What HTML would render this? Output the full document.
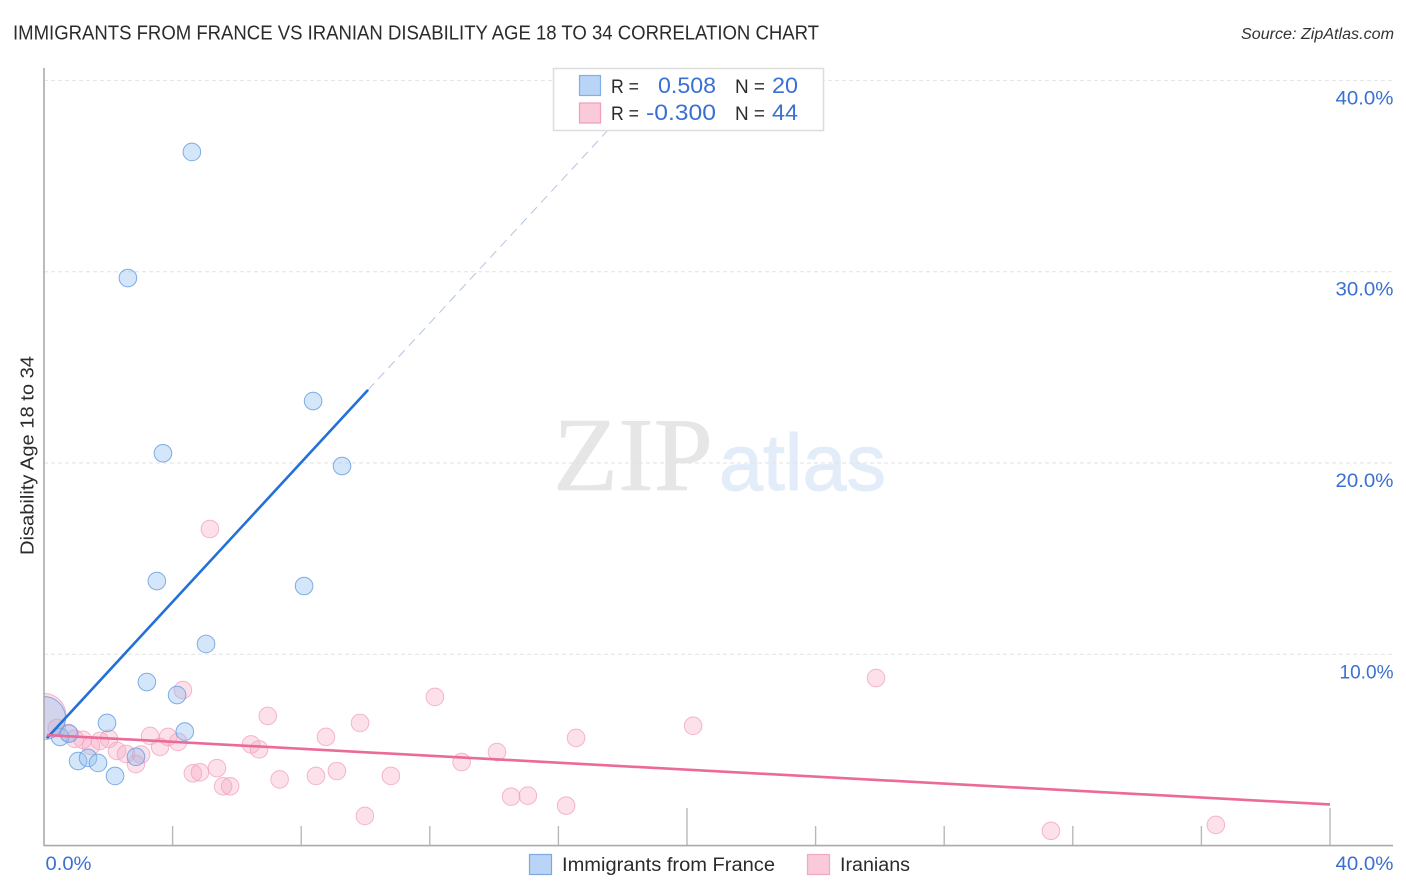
<!DOCTYPE html>
<html lang="en">
<head>
<meta charset="utf-8">
<title>Immigrants from France vs Iranian Disability Age 18 to 34 Correlation Chart</title>
<style>
html,body{margin:0;padding:0;background:#fff;}
body{width:1406px;height:892px;overflow:hidden;}
svg{display:block;font-family:"Liberation Sans",sans-serif;}
</style>
</head>
<body>
<svg id="chart" width="1406" height="892" viewBox="0 0 1406 892" xmlns="http://www.w3.org/2000/svg">
  <rect x="0" y="0" width="1406" height="892" fill="#ffffff"></rect>

  <g>
    <text x="553" y="490" font-family="'Liberation Serif',serif" font-size="105" fill="#e6e6e6" stroke="#e6e6e6" stroke-width="0.6" textLength="160" lengthAdjust="spacingAndGlyphs">ZIP</text>
    <text x="719" y="490" font-size="80" fill="#e3edf9" stroke="#e3edf9" stroke-width="1" textLength="167" lengthAdjust="spacingAndGlyphs">atlas</text>
  </g>

  <g id="grid"></g>
  <g id="ticks"></g>

  <g id="points-pink"></g>
  <g id="points-blue"></g>
  <g id="trends"></g>

  <rect x="0" y="60" width="44" height="786" fill="#ffffff"></rect>
  <line x1="44" y1="68" x2="44" y2="846" stroke="#aaaaaa" stroke-width="1.6"></line>
  <line x1="44" y1="845.6" x2="1393" y2="845.6" stroke="#aaaaaa" stroke-width="1.6"></line>

  <text x="13" y="39.5" font-size="20" fill="#2b2b2b" textLength="806" lengthAdjust="spacingAndGlyphs">IMMIGRANTS FROM FRANCE VS IRANIAN DISABILITY AGE 18 TO 34 CORRELATION CHART</text>
  <text x="1241" y="39" font-size="15.5" font-style="italic" fill="#333333" textLength="153" lengthAdjust="spacingAndGlyphs">Source: ZipAtlas.com</text>

  <text transform="translate(33.5,555) rotate(-90)" font-size="18" fill="#2b2b2b" textLength="199" lengthAdjust="spacingAndGlyphs">Disability Age 18 to 34</text>

  <g id="y-labels"></g>
  <g id="x-labels"></g>

  <g>
    <rect x="553.5" y="68.5" width="270" height="62" fill="#ffffff" stroke="#dddddd" stroke-width="1.5"></rect>
    <rect x="579.5" y="75.5" width="21" height="20" fill="#b9d4f6" stroke="#7fb0e8" stroke-width="1.2"></rect>
    <rect x="579.5" y="103" width="21" height="20" fill="#fac9da" stroke="#f19dbb" stroke-width="1.2"></rect>
    <text x="611" y="93" font-size="19" fill="#2b2b2b" textLength="28" lengthAdjust="spacingAndGlyphs">R =</text>
    <text x="658" y="93" font-size="22" fill="#3a70d2" textLength="58" lengthAdjust="spacingAndGlyphs">0.508</text>
    <text x="735" y="93" font-size="19" fill="#2b2b2b" textLength="30" lengthAdjust="spacingAndGlyphs">N =</text>
    <text x="772" y="93" font-size="22" fill="#3a70d2" textLength="26" lengthAdjust="spacingAndGlyphs">20</text>
    <text x="611" y="120" font-size="19" fill="#2b2b2b" textLength="28" lengthAdjust="spacingAndGlyphs">R =</text>
    <text x="646" y="120" font-size="22" fill="#3a70d2" textLength="70" lengthAdjust="spacingAndGlyphs">-0.300</text>
    <text x="735" y="120" font-size="19" fill="#2b2b2b" textLength="30" lengthAdjust="spacingAndGlyphs">N =</text>
    <text x="772" y="120" font-size="22" fill="#3a70d2" textLength="26" lengthAdjust="spacingAndGlyphs">44</text>
  </g>

  <g>
    <rect x="529.5" y="854.5" width="22" height="20" fill="#b9d4f6" stroke="#7fa8dc" stroke-width="1.2"></rect>
    <text x="562" y="871" font-size="19" fill="#2b2b2b" textLength="213" lengthAdjust="spacingAndGlyphs">Immigrants from France</text>
    <rect x="807.5" y="854.5" width="22" height="20" fill="#fac9da" stroke="#eeaac2" stroke-width="1.2"></rect>
    <text x="840" y="871" font-size="19" fill="#2b2b2b" textLength="70" lengthAdjust="spacingAndGlyphs">Iranians</text>
  </g>
</svg>
<script>
// Chart data (values in percent)
const blueX = [4.60,2.61,8.37,3.70,9.27,3.51,8.09,5.04,3.20,4.14,1.96,4.38,0.50,0.78,1.06,1.37,1.68,2.21,2.86,0.00];
const blueY = [36.26,29.67,23.24,20.51,19.84,13.83,13.57,10.54,8.55,7.87,6.41,5.96,5.68,5.85,4.42,4.58,4.32,3.64,4.64,6.67];
const blueLarge = [0,0,0,0,0,0,0,0,0,0,0,0,0,0,0,0,0,0,0,1];

const pinkX = [0.00,0.40,0.75,0.96,1.21,1.46,1.74,2.02,2.27,2.55,2.86,3.02,3.30,3.61,3.86,4.17,4.32,4.63,4.85,5.38,5.57,5.79,6.44,6.69,6.96,7.33,
  5.16,25.88,12.16,9.83,20.19,8.77,16.55,14.09,12.99,8.46,9.11,10.79,9.98,14.53,15.05,16.24,31.32,36.45];
const pinkY = [6.80,6.15,5.89,5.58,5.53,5.21,5.47,5.58,4.95,4.79,4.26,4.76,5.73,5.16,5.68,5.42,8.13,3.78,3.83,4.05,3.10,3.10,5.29,5.03,6.78,3.46,
  16.55,8.76,7.77,6.41,6.26,5.68,5.63,4.89,4.37,3.64,3.90,3.64,1.55,2.56,2.61,2.09,0.77,1.08];
const pinkLarge = [1,0,0,0,0,0,0,0,0,0,0,0,0,0,0,0,0,0,0,0,0,0,0,0,0,0,0,0,0,0,0,0,0,0,0,0,0,0,0,0,0,0,0,0];

const blueTrendX = [0.09,10.08];
const blueTrendY = [5.62,23.82];
const blueForecastX = [10.08,18.97];
const blueForecastY = [23.82,40.00];
const pinkTrendX = [0.09,40.00];
const pinkTrendY = [5.78,2.15];

const gridValues = [10,20,30,40];
const yTickLabels = ["10.0%","20.0%","30.0%","40.0%"];
const xTickValues = [4,8,12,16,20,24,28,32,36,40];
const xTallTicks = [20,40];
const xEndValues = [0,40];
const xEndLabels = ["0.0%","40.0%"];

// Axis functions
const xScale = v => 44 + v * 32.15;
const yScale = v => 845.6 - v * 19.13;

const NS = "http://www.w3.org/2000/svg";
const mk = (tag, parent) => {
  const el = document.createElementNS(NS, tag);
  document.getElementById(parent).appendChild(el);
  return el;
};

gridValues.forEach((v, i) => {
  const line = mk("line", "grid");
  
  
  line.setAttribute("x1", 44);
  line.setAttribute("x2", 1393);
  line.setAttribute("y1", yScale(v));
  line.setAttribute("y2", yScale(v));
  line.setAttribute("stroke", "#e2e2e2");
  line.setAttribute("stroke-width", "1");
  line.setAttribute("stroke-dasharray", "4 3");

  const label = mk("text", "y-labels");
  
  
  const w = v === 10 ? 54 : 58;
  label.setAttribute("x", 1393.5 - w);
  label.setAttribute("y", yScale(v) + 24);
  label.setAttribute("font-size", "19.5");
  label.setAttribute("fill", "#3a70d2");
  label.setAttribute("textLength", w);
  label.setAttribute("lengthAdjust", "spacingAndGlyphs");
  label.textContent = yTickLabels[i];
});

xTickValues.forEach(v => {
  const tick = mk("line", "ticks");
  
  
  tick.setAttribute("x1", xScale(v));
  tick.setAttribute("x2", xScale(v));
  tick.setAttribute("y1", xTallTicks.includes(v) ? 808 : 826);
  tick.setAttribute("y2", 845.6);
  tick.setAttribute("stroke", "#b8b8b8");
  tick.setAttribute("stroke-width", "1.4");
});

xEndValues.forEach((v, i) => {
  const label = mk("text", "x-labels");
  
  
  const w = v === 0 ? 46 : 58;
  label.setAttribute("x", v === 0 ? 45.5 : 1335.5);
  label.setAttribute("y", 870);
  label.setAttribute("font-size", "19.5");
  label.setAttribute("fill", "#3a70d2");
  label.setAttribute("textLength", w);
  label.setAttribute("lengthAdjust", "spacingAndGlyphs");
  label.textContent = xEndLabels[i];
});

pinkX.forEach((v, i) => {
  const c = mk("circle", "points-pink");
  
  
  c.setAttribute("cx", xScale(v));
  c.setAttribute("cy", yScale(pinkY[i]));
  c.setAttribute("r", pinkLarge[i] ? 22 : 8.8);
  c.setAttribute("fill", "#f7a8c2");
  c.setAttribute("fill-opacity", "0.34");
  c.setAttribute("stroke", "#f2a0bc");
  c.setAttribute("stroke-opacity", "0.75");
  c.setAttribute("stroke-width", "1");
});

blueX.forEach((v, i) => {
  const c = mk("circle", "points-blue");
  
  
  c.setAttribute("cx", xScale(v));
  c.setAttribute("cy", yScale(blueY[i]));
  c.setAttribute("r", blueLarge[i] ? 21.5 : 8.8);
  c.setAttribute("fill", "#8dbcf0");
  c.setAttribute("fill-opacity", "0.38");
  c.setAttribute("stroke", "#6c9fe0");
  c.setAttribute("stroke-opacity", "0.85");
  c.setAttribute("stroke-width", "1");
});

const forecast = mk("line", "trends");


forecast.setAttribute("x1", xScale(blueForecastX[0]));
forecast.setAttribute("y1", yScale(blueForecastY[0]));
forecast.setAttribute("x2", xScale(blueForecastX[1]));
forecast.setAttribute("y2", yScale(blueForecastY[1]));
forecast.setAttribute("stroke", "#b4c4e0");
forecast.setAttribute("stroke-width", "1");
forecast.setAttribute("stroke-dasharray", "9 6");

const blueTrend = mk("line", "trends");


blueTrend.setAttribute("x1", xScale(blueTrendX[0]));
blueTrend.setAttribute("y1", yScale(blueTrendY[0]));
blueTrend.setAttribute("x2", xScale(blueTrendX[1]));
blueTrend.setAttribute("y2", yScale(blueTrendY[1]));
blueTrend.setAttribute("stroke", "#2370d8");
blueTrend.setAttribute("stroke-width", "2.6");

const pinkTrend = mk("line", "trends");


pinkTrend.setAttribute("x1", xScale(pinkTrendX[0]));
pinkTrend.setAttribute("y1", yScale(pinkTrendY[0]));
pinkTrend.setAttribute("x2", xScale(pinkTrendX[1]));
pinkTrend.setAttribute("y2", yScale(pinkTrendY[1]));
pinkTrend.setAttribute("stroke", "#ec6a9a");
pinkTrend.setAttribute("stroke-width", "2.6");
</script>
</body>
</html>
